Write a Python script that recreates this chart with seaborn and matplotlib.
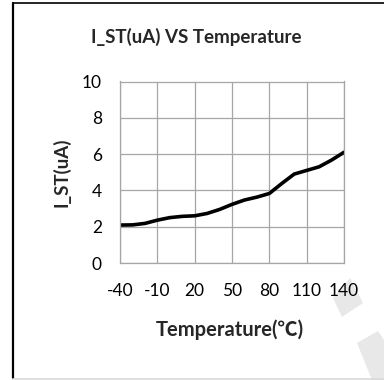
import matplotlib
matplotlib.use("Agg")
import matplotlib.pyplot as plt
import matplotlib.lines as mlines
import matplotlib.patches as mpatches
import pandas as pd
import seaborn as sns

# ---- data ----
temperature = [-40, -30, -20, -10, 0, 10, 20, 30, 40, 50, 60, 70, 80, 90, 100, 110, 120, 130, 140]
i_st = [2.09, 2.10, 2.18, 2.36, 2.50, 2.57, 2.60, 2.73, 2.95, 3.23, 3.47, 3.63, 3.83, 4.38, 4.90, 5.10, 5.30, 5.67, 6.10]
x_ticks = [-40, -10, 20, 50, 80, 110, 140]
y_ticks = [0, 2, 4, 6, 8, 10]

df = pd.DataFrame({"Temperature": temperature, "I_ST": i_st})

sns.set_theme(style="white")
plt.rcParams["font.family"] = ["Lato", "Noto Sans CJK SC", "DejaVu Sans"]

W, H = 384, 380
fig = plt.figure(figsize=(W / 100, H / 100), dpi=100)
ax_bottom, ax_top = 263, 81.5
ax = fig.add_axes([120 / W, 1 - ax_bottom / H, 224 / W, (ax_bottom - ax_top) / H])

grid_c = "#a6a6a6"
sns.lineplot(data=df, x="Temperature", y="I_ST", ax=ax, color="black", linewidth=2.6)

ax.set_xlim(-40, 140)
ax.set_ylim(0, 10)
ax.set_xticks(x_ticks)
ax.set_yticks(y_ticks)
ax.set_xticklabels([str(t) for t in x_ticks], fontsize=12.5)
ax.set_yticklabels([str(t) for t in y_ticks], fontsize=12.5)
ax.grid(True, color=grid_c, linewidth=0.9)
for s in ax.spines.values():
    s.set_color(grid_c)
    s.set_linewidth(0.9)
ax.tick_params(axis="x", direction="out", length=4.5, width=0.9,
               color=grid_c, labelcolor="black", pad=10)
ax.tick_params(axis="y", direction="out", length=6, width=0.9,
               color=grid_c, labelcolor="black", pad=7)

ax.set_xlabel("Temperature(℃)", fontsize=14.5, fontweight="bold")
ax.set_ylabel("I_ST(uA)", fontsize=13.5, fontweight="bold")
h = ax_bottom - ax_top
ax.xaxis.set_label_coords((230 - 120) / 224, (ax_bottom - 330) / h)
ax.xaxis.label.set_va("center")
ax.yaxis.set_label_coords((61 - 120) / 224, (ax_bottom - 172) / h)
ax.yaxis.label.set_va("center")

fig.text(196 / W, 1 - 37 / H, "I_ST(uA) VS Temperature", ha="center", va="center",
         fontsize=13.5, fontweight="bold")

# chart frame
fig.add_artist(mlines.Line2D([12.5 / W, 12.5 / W], [1 - 2.5 / H, 1 - 378 / H],
                             transform=fig.transFigure, color="black", linewidth=1.6))
fig.add_artist(mlines.Line2D([12.5 / W, 1], [1 - 2.5 / H, 1 - 2.5 / H],
                             transform=fig.transFigure, color="black", linewidth=1.2))
fig.add_artist(mlines.Line2D([12.5 / W, 1], [1 - 378.5 / H, 1 - 378.5 / H],
                             transform=fig.transFigure, color="#d9d9d9", linewidth=1.2))

# faint watermark shapes
wm = [
    [(333, 298), (350, 278), (363, 303), (342, 317)],
    [(357, 343), (378, 331), (384, 340), (384, 380), (372, 380)],
]
for poly in wm:
    pts = [(px / W, 1 - py / H) for px, py in poly]
    fig.add_artist(mpatches.Polygon(pts, closed=True, transform=fig.transFigure,
                                    facecolor="#e8e8e8", edgecolor="none", zorder=-1))

fig.savefig("out.png", dpi=100)
